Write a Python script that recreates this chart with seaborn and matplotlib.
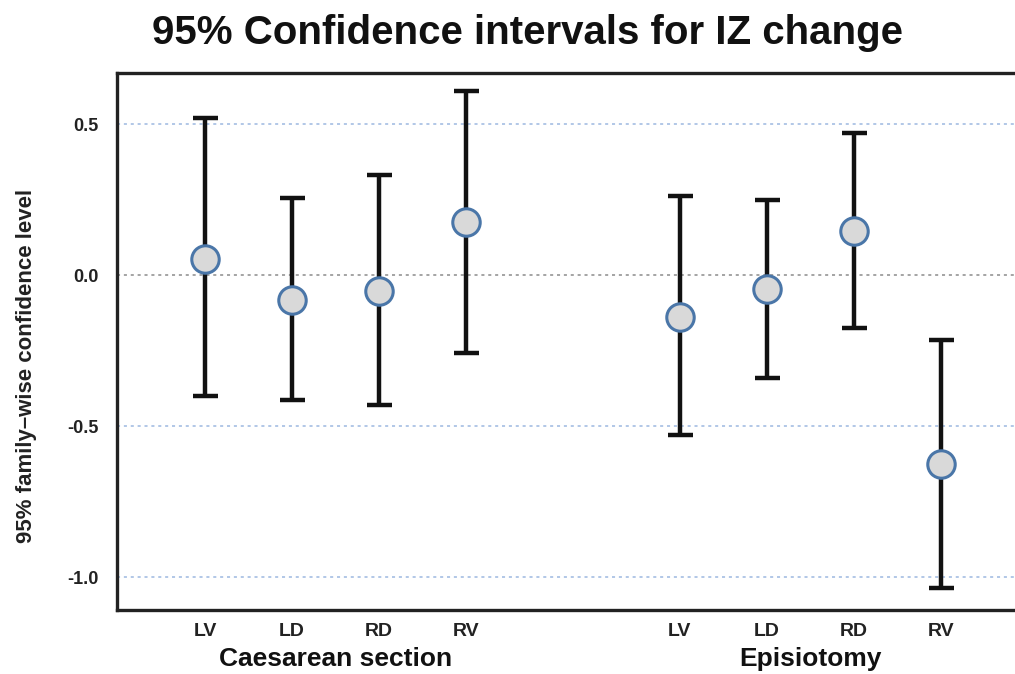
import matplotlib
matplotlib.use("Agg")
import matplotlib.pyplot as plt
import matplotlib.transforms as mtransforms
import seaborn as sns
import pandas as pd
import numpy as np

groups = ["Caesarean section"] * 4 + ["Episiotomy"] * 4
regions = ["LV", "LD", "RD", "RV", "LV", "LD", "RD", "RV"]
estimate = [0.053, -0.083, -0.053, 0.175, -0.139, -0.046, 0.146, -0.626]
lower = [-0.40, -0.414, -0.43, -0.258, -0.53, -0.34, -0.176, -1.036]
upper = [0.52, 0.255, 0.33, 0.61, 0.262, 0.25, 0.47, -0.215]
group_names = ["Caesarean section", "Episiotomy"]
yticks = [0.5, 0.0, -0.5, -1.0]

# layout positions (slot index within group, group offset)
group_offset = {"Caesarean section": 0.0, "Episiotomy": 5.45}
slot = [0, 1, 2, 3, 0, 1, 2, 3]
pos = [group_offset[g] + s for g, s in zip(groups, slot)]

df = pd.DataFrame({"group": groups, "region": regions, "est": estimate,
                   "lo": lower, "hi": upper, "x": pos})

sns.set_theme(style="white")
plt.rcParams["font.family"] = ["Liberation Sans", "DejaVu Sans"]

W, H = 1015, 674
fig = plt.figure(figsize=(W / 100, H / 100), dpi=100)
ax = fig.add_axes([117 / W, 1 - 610 / H, 1.0 - 117 / W + 0.01, (610 - 73) / H])

# reference lines
for yv in yticks:
    col = "#8c8c8c" if yv == 0 else "#9db8e0"
    ax.axhline(yv, color=col, lw=1.1, ls=(0, (2, 2.5)), zorder=0)

# error bars
ax.errorbar(df["x"], df["est"],
            yerr=[df["est"] - df["lo"], df["hi"] - df["est"]],
            fmt="none", ecolor="#111111", elinewidth=3.2, capsize=9,
            capthick=3.2, zorder=2)

sns.scatterplot(data=df, x="x", y="est", ax=ax, s=390, color="#d9d9d9",
                edgecolor="#4a76a8", linewidth=2.2, zorder=3, legend=False)

ax.set_xlim(-1.01, 9.415)
ax.set_ylim(-1.109, 0.669)
ax.set_yticks(yticks)
ax.set_yticklabels([f"{v:.1f}" for v in yticks], fontsize=13, fontweight="bold", color="#222222")
ax.set_xticks(df["x"])
ax.set_xticklabels(df["region"], fontsize=14, fontweight="bold", color="#222222")
ax.tick_params(axis="y", length=0, pad=13)
ax.tick_params(axis="x", length=0, pad=9)
ax.set_xlabel("")
ax.set_ylabel("")
fig.text(27 / W, 1 - 366 / H, "95% family\u2013wise confidence level", rotation=90,
         ha="center", va="center", fontsize=16, fontweight="bold", color="#222222")

trans = mtransforms.blended_transform_factory(ax.transData, fig.transFigure)
for g in group_names:
    cx = group_offset[g] + 1.5
    ax.text(cx, 1 - 666 / H, g, transform=trans, ha="center", va="baseline",
            fontsize=19, fontweight="bold", color="#111111")

for side in ["left", "top", "bottom"]:
    ax.spines[side].set_visible(True)
    ax.spines[side].set_color("#222222")
    ax.spines[side].set_linewidth(2.4)
ax.spines["right"].set_visible(False)

fig.text(527 / W, 1 - 33 / H, "95% Confidence intervals for IZ change",
         ha="center", va="center", fontsize=29, fontweight="bold", color="#111111")

fig.savefig("out.png", dpi=100)
